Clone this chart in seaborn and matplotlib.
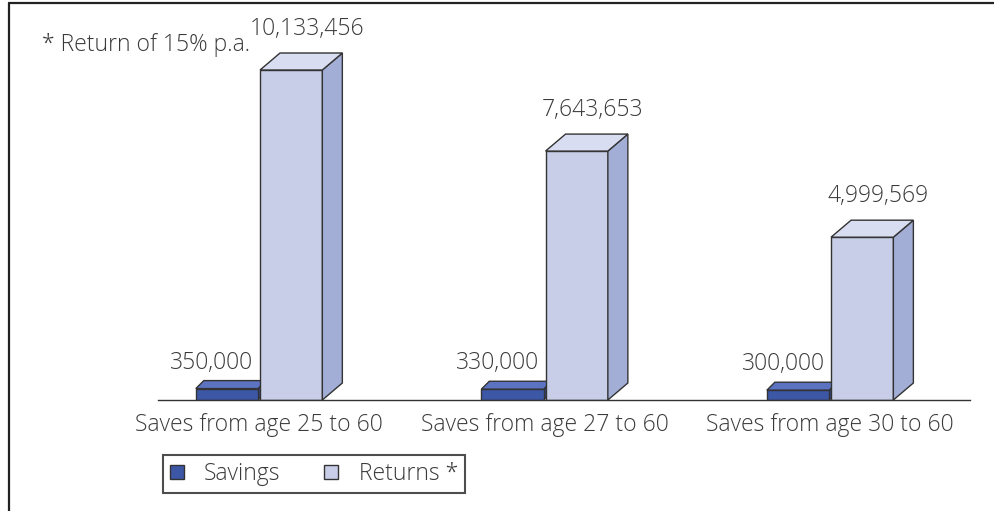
import matplotlib
matplotlib.use("Agg")
import matplotlib.pyplot as plt
import seaborn as sns
import pandas as pd
import numpy as np
from matplotlib.patches import Polygon, Patch
from matplotlib.lines import Line2D
from matplotlib.transforms import IdentityTransform

# ---- data ----
categories = ["Saves from age 25 to 60", "Saves from age 27 to 60", "Saves from age 30 to 60"]
series = ["Savings", "Returns *"]
savings = [350000, 330000, 300000]
returns = [10133456, 7643653, 4999569]
note = "* Return of 15% p.a."

df = pd.DataFrame({
    "category": categories * 2,
    "series": [series[0]] * len(categories) + [series[1]] * len(categories),
    "value": savings + returns,
})

sns.set_theme(style="white")
plt.rcParams["font.family"] = ["Open Sans", "DejaVu Sans"]
plt.rcParams["font.weight"] = "light"
TXT = "#3a3a3a"
FS = 16.5

front = {series[0]: "#3D57A7", series[1]: "#C9CEE8"}
top_c = {series[0]: "#5B73C0", series[1]: "#D9DDF1"}
side_c = {series[0]: "#2E468F", series[1]: "#A2AED6"}
depth = {series[0]: (8, 8), series[1]: (20, 17)}   # pixel offsets (style)
EDGE = "#333333"

fig = plt.figure(figsize=(9.94, 5.11), dpi=100)
ax = fig.add_axes([158 / 994, 111 / 511, (970 - 158) / 994, (400 - 20) / 511])
sns.barplot(data=df, x="category", y="value", hue="series", palette=front,
            width=0.45, gap=0.03, ax=ax, edgecolor=EDGE, linewidth=1.0, legend=False,
            saturation=1, errorbar=None, zorder=2)

ax.set_xlim(-0.354, 2.49)
ax.set_ylim(0, max(returns) * 380 / 330)
for s in ["left", "top", "right"]:
    ax.spines[s].set_visible(False)
ax.spines["bottom"].set_color(EDGE)
ax.spines["bottom"].set_linewidth(1.0)
ax.set_yticks([])
ax.set_xlabel("")
ax.set_ylabel("")
ax.tick_params(axis="x", which="major", length=0, pad=9, labelsize=FS, labelcolor=TXT)
ax.set_xticks([-0.354, 0.5, 1.5], minor=True)
ax.tick_params(axis="x", which="minor", length=6.5, width=1.0, color=EDGE, direction="out")
ax.set_facecolor("none")

# 3D faces from the bars
ident = IdentityTransform()
for si, cont in enumerate(ax.containers):
    name = series[si]
    dx, dy = depth[name]
    z = 1.5 if si == 0 else 2.5
    for bar in cont.patches:
        x0, y0 = bar.get_x(), bar.get_y()
        x1, y1 = x0 + bar.get_width(), y0 + bar.get_height()
        (px0, py0), (px1, py1) = ax.transData.transform([(x0, y0), (x1, y1)])
        topf = Polygon([(px0, py1), (px1, py1), (px1 + dx, py1 + dy), (px0 + dx, py1 + dy)],
                       closed=True, transform=ident, facecolor=top_c[name],
                       edgecolor=EDGE, linewidth=1.0, zorder=z)
        sidef = Polygon([(px1, py0), (px1 + dx, py0 + dy), (px1 + dx, py1 + dy), (px1, py1)],
                        closed=True, transform=ident, facecolor=side_c[name],
                        edgecolor=EDGE, linewidth=1.0, zorder=z)
        ax.add_artist(sidef)
        ax.add_artist(topf)
        cx = x0 + bar.get_width() / 2
        if si == 0:
            ax.annotate(f"{int(round(bar.get_height())):,}", xy=(cx, y1),
                        xytext=(-15, dy + 6), textcoords="offset pixels",
                        ha="center", va="bottom", fontsize=FS, color=TXT)
        else:
            ax.annotate(f"{int(round(bar.get_height())):,}", xy=(cx, y1),
                        xytext=(dx / 2 + 6, dy + 12), textcoords="offset pixels",
                        ha="center", va="bottom", fontsize=FS, color=TXT)

fig.text(250 / 994, 1 - 45 / 511, note, ha="right", va="center", fontsize=FS, color=TXT)

# frame lines (top and left)
fig.add_artist(Line2D([9 / 994, 1.0], [1 - 3 / 511, 1 - 3 / 511], transform=fig.transFigure,
                      color="#222222", linewidth=1.6))
fig.add_artist(Line2D([9 / 994, 9 / 994], [0, 1 - 3 / 511], transform=fig.transFigure,
                      color="#222222", linewidth=1.6))

handles = [Patch(facecolor=front[s], edgecolor=EDGE, linewidth=1.0, label=s) for s in series]
leg = fig.legend(handles=handles, loc="upper left", bbox_to_anchor=(163 / 994, 1 - 455 / 511),
                 ncol=2, frameon=True, fancybox=False, fontsize=FS, handlelength=0.6,
                 handleheight=0.6, handletextpad=0.9, columnspacing=1.9, borderpad=0.3,
                 borderaxespad=0)
leg.get_frame().set_edgecolor("#222222")
leg.get_frame().set_linewidth(1.5)
for t in leg.get_texts():
    t.set_color(TXT)

fig.savefig("out.png", dpi=100, facecolor="white")
